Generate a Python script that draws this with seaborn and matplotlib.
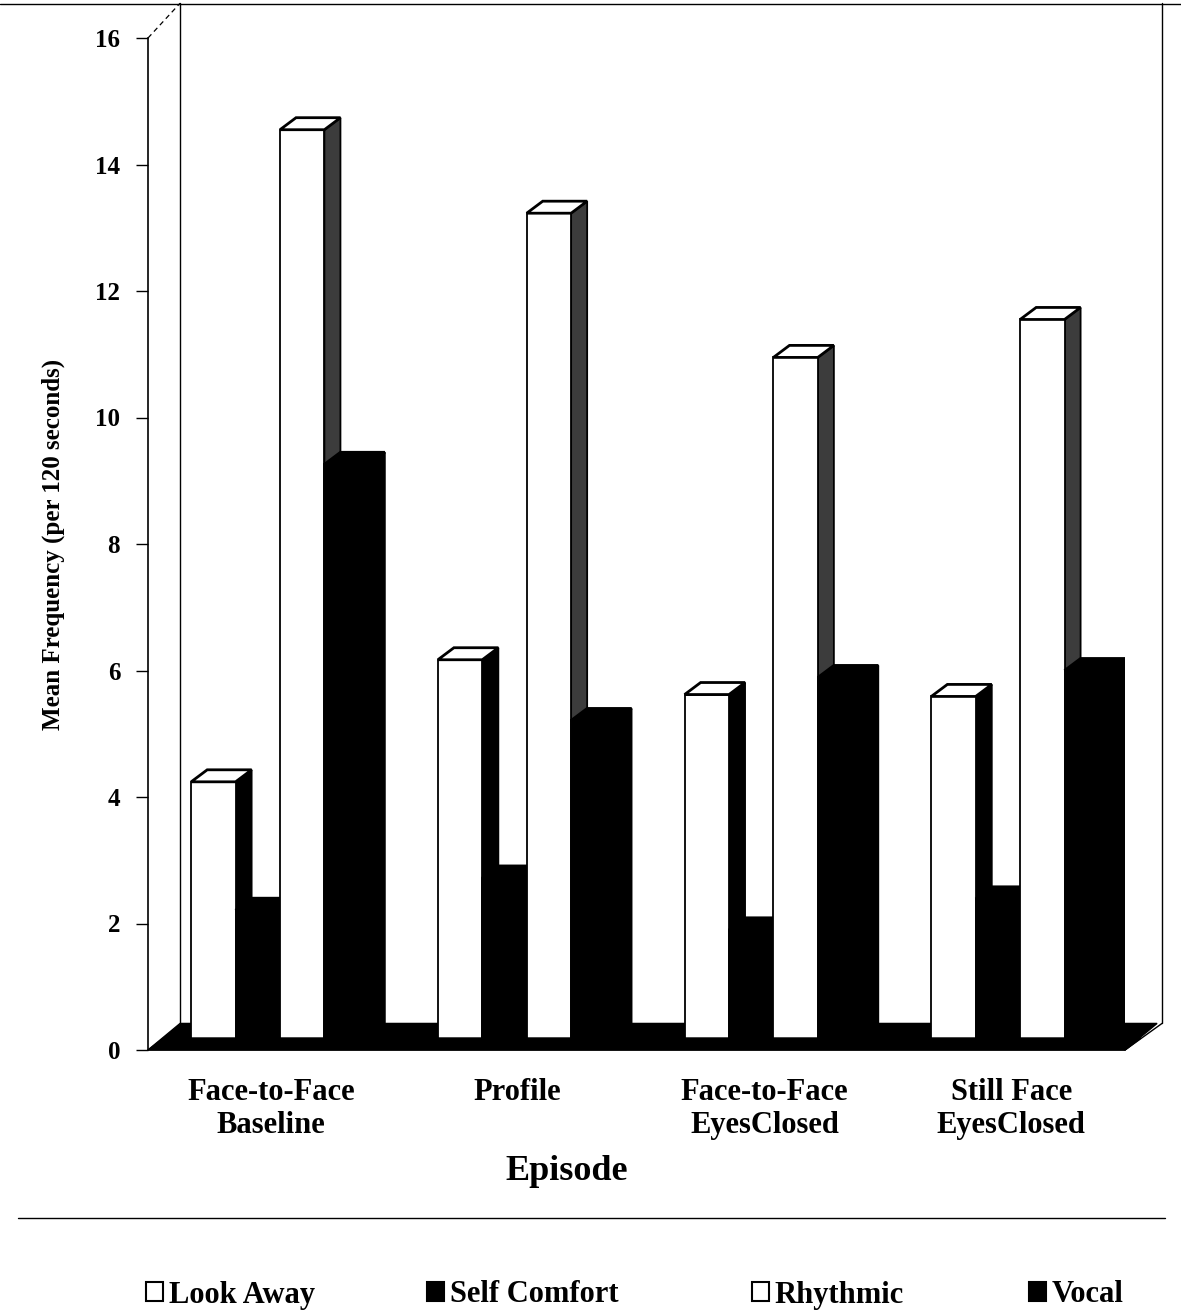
import numpy as np
import pandas as pd
import seaborn as sns
import matplotlib.pyplot as plt
from matplotlib.patches import Polygon, Patch
from matplotlib.lines import Line2D
import matplotlib.transforms as mtransforms

# ---------------- data ----------------
episodes = ["Face-to-Face\nBaseline", "Profile", "Face-to-Face\nEyesClosed", "Still Face\nEyesClosed"]
series = ["Look Away", "Self Comfort", "Rhythmic", "Vocal"]
look_away = [4.24, 6.17, 5.62, 5.59]
self_comfort = [2.21, 2.72, 1.90, 2.39]
rhythmic = [14.55, 13.23, 10.95, 11.55]
vocal = [9.26, 5.21, 5.89, 6.00]
y_ticks = [0, 2, 4, 6, 8, 10, 12, 14, 16]

front_colors = {"Look Away": "white", "Self Comfort": "black", "Rhythmic": "white", "Vocal": "black"}
side_colors = {"Look Away": "black", "Self Comfort": "black", "Rhythmic": "#3c3c3c", "Vocal": "black"}
top_colors = {"Look Away": "white", "Self Comfort": "black", "Rhythmic": "white", "Vocal": "black"}

values = {"Look Away": look_away, "Self Comfort": self_comfort, "Rhythmic": rhythmic, "Vocal": vocal}
rows = []
for i, ep in enumerate(episodes):
    for s in series:
        rows.append({"Episode": ep, "Series": s, "Value": values[s][i]})
df = pd.DataFrame(rows)

# ---------------- style ----------------
sns.set_theme(style="white")
plt.rcParams["font.family"] = ["Liberation Serif", "DejaVu Serif"]
plt.rcParams["font.weight"] = "bold"
for k in ["text.color", "axes.labelcolor", "xtick.color", "ytick.color"]:
    plt.rcParams[k] = "black"

W, H = 1181, 1314
fig = plt.figure(figsize=(W / 100, H / 100), dpi=100)
fig.patch.set_facecolor("white")

ax_left, ax_right, ax_top, ax_bot = 148, 1125, 38, 1050
ax = fig.add_axes([ax_left / W, 1 - ax_bot / H, (ax_right - ax_left) / W, (ax_bot - ax_top) / H])

sns.barplot(data=df, x="Episode", y="Value", hue="Series", order=episodes,
            hue_order=series, palette=front_colors, width=0.72, saturation=1,
            edgecolor="black", linewidth=1.3, ax=ax, legend=False, errorbar=None)

xl, xr = -0.535, 3.425
ax.set_xlim(xl, xr)
ax.set_ylim(0, 16)

# 3D depth offsets (in data units)
dx, dy = 0.065, 0.19
fdx, fdy = 0.13, 0.42

# floor (behind)
ax.add_patch(Polygon([(xl, 0), (xr, 0), (xr + fdx, fdy), (xl + fdx, fdy)], closed=True,
                     facecolor="black", edgecolor="black", zorder=1, clip_on=False))

bars = []
for ci, cont in enumerate(ax.containers):
    s = series[ci]
    for bar in cont:
        bars.append((bar.get_x(), bar, s))
bars.sort(key=lambda t: t[0])
for rank, (x0, bar, s) in enumerate(bars):
    z = 3 + rank
    w = bar.get_width()
    h = bar.get_height()
    bar.set_zorder(z)
    side = Polygon([(x0 + w, 0), (x0 + w + dx, dy), (x0 + w + dx, h + dy), (x0 + w, h)],
                   closed=True, facecolor=side_colors[s], edgecolor="black", linewidth=1.3,
                   zorder=z - 0.1)
    top = Polygon([(x0, h), (x0 + dx, h + dy), (x0 + w + dx, h + dy), (x0 + w, h)],
                  closed=True, facecolor=top_colors[s], edgecolor="black", linewidth=2.0,
                  zorder=z + 0.1)
    ax.add_patch(side)
    ax.add_patch(top)

# front floor strip
ax.add_patch(Polygon([(xl, 0), (xr, 0), (xr + dx, dy), (xl + dx, dy)], closed=True,
                     facecolor="black", edgecolor="black", zorder=60, clip_on=False))

# back wall lines
ytop = 16.55
ax.plot([xl + fdx, xl + fdx], [fdy, ytop], color="black", lw=1.0, clip_on=False, zorder=0.5)
ax.plot([xr + fdx + 0.02, xr + fdx + 0.02], [fdy, ytop], color="black", lw=1.0, clip_on=False, zorder=0.5)
ax.plot([xr, xr + fdx + 0.02], [0, fdy], color="black", lw=1.0, clip_on=False, zorder=61)
ax.plot([xl, xl + fdx], [16, ytop], color="black", lw=0.9, ls=(0, (4, 3)), clip_on=False)

# axes styling
for sp in ["top", "right", "bottom"]:
    ax.spines[sp].set_visible(False)
ax.spines["left"].set_color("black")
ax.spines["left"].set_linewidth(1.2)
ax.set_yticks(y_ticks)
ax.set_yticklabels([str(t) for t in y_ticks], fontsize=18, fontweight="bold")
ax.tick_params(axis="y", direction="out", length=9, width=1, color="black", pad=11, left=True)
ax.tick_params(axis="x", length=0, pad=20)
ax.set_xticks(range(len(episodes)))
ax.set_xticklabels(episodes, fontsize=22, fontweight="bold", linespacing=1.2)
offset = mtransforms.ScaledTranslation(-9 / 100, 0, fig.dpi_scale_trans)
for lab in ax.get_xticklabels():
    lab.set_transform(lab.get_transform() + offset)
ax.set_xlabel("")
ax.set_ylabel("Mean Frequency (per 120 seconds)", fontsize=18, fontweight="bold", labelpad=22)
ax.grid(False)

fig.text(567 / W, 1 - 1172 / H, "Episode", ha="center", va="center", fontsize=26, fontweight="bold")

# figure decoration lines
fig.add_artist(Line2D([0, 1], [1 - 4 / H, 1 - 4 / H], color="black", lw=1.0))
fig.add_artist(Line2D([18 / W, 1165 / W], [1 - 1218 / H, 1 - 1218 / H], color="black", lw=1.0))

# legend: four entries spread across the bottom
legend_x = [146, 427, 752, 1029]
for s, lx in zip(series, legend_x):
    h = Patch(facecolor=front_colors[s], edgecolor="black", linewidth=1.5)
    fig.legend(handles=[h], labels=[s], loc="center left",
               bbox_to_anchor=(lx / W, 1 - 1295 / H), frameon=False,
               prop={"size": 22, "weight": "bold"}, handlelength=0.55,
               handleheight=0.55, handletextpad=0.2, borderpad=0, borderaxespad=0)

fig.savefig("out.png", dpi=100, facecolor="white")
